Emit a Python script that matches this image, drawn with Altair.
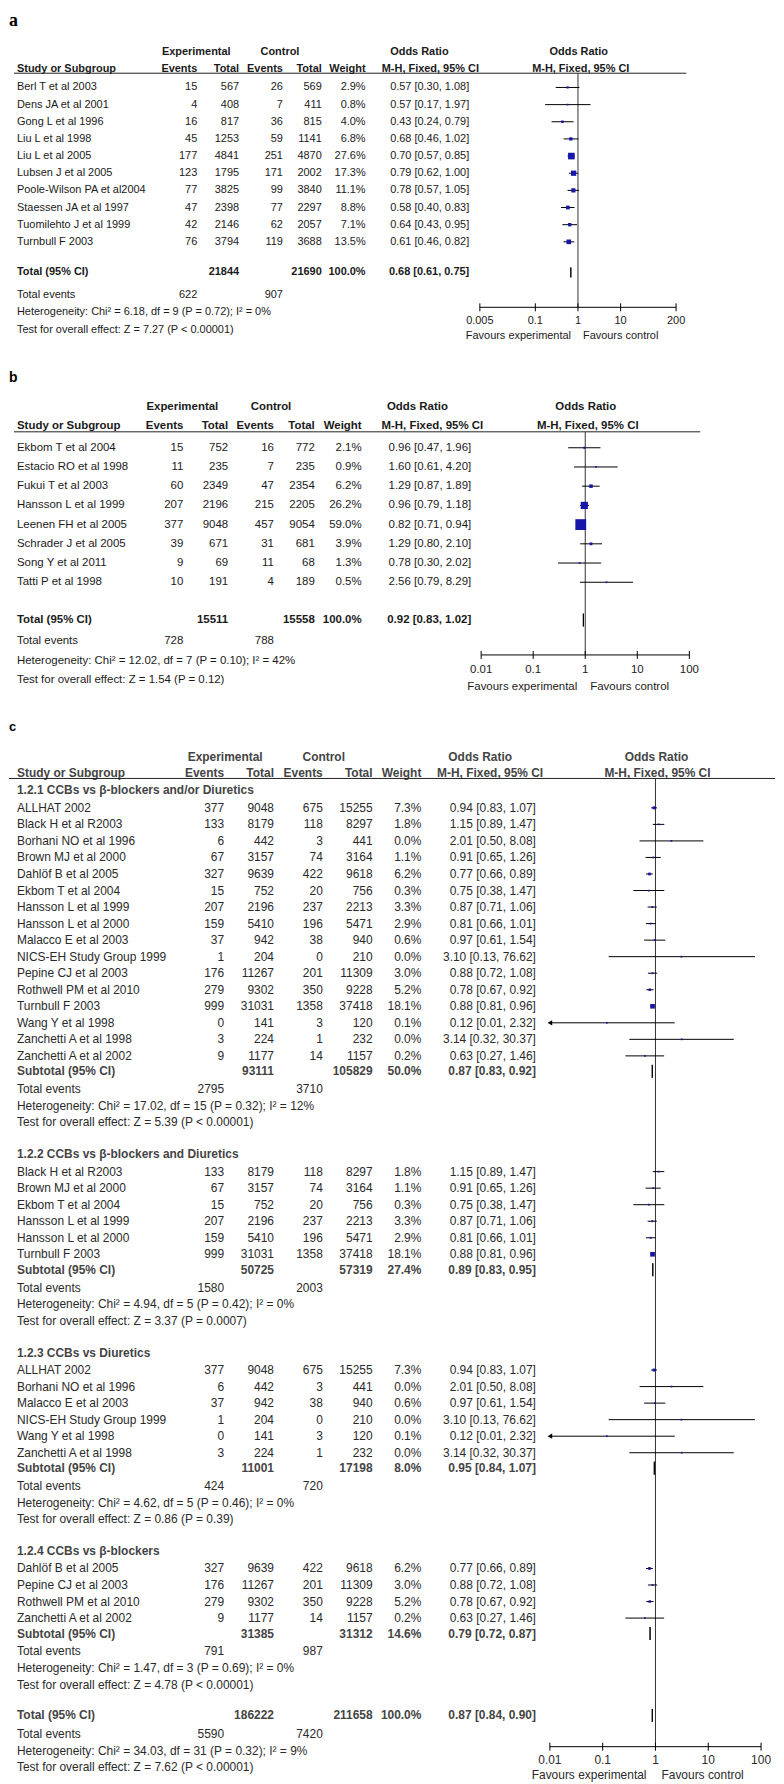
import altair as alt
import pandas as pd

# ============================ DATA ============================
# ---- Panel a ----
a_study = ["Berl T et al 2003", "Dens JA et al 2001", "Gong L et al 1996", "Liu L et al 1998",
           "Liu L et al 2005", "Lubsen J et al 2005", "Poole-Wilson PA et al2004",
           "Staessen JA et al 1997", "Tuomilehto J et al 1999", "Turnbull F 2003"]
a_exp_events = [15, 4, 16, 45, 177, 123, 77, 47, 42, 76]
a_exp_total = [567, 408, 817, 1253, 4841, 1795, 3825, 2398, 2146, 3794]
a_ctl_events = [26, 7, 36, 59, 251, 171, 99, 77, 62, 119]
a_ctl_total = [569, 411, 815, 1141, 4870, 2002, 3840, 2297, 2057, 3688]
a_weight = [2.9, 0.8, 4.0, 6.8, 27.6, 17.3, 11.1, 8.8, 7.1, 13.5]
a_or = [0.57, 0.57, 0.43, 0.68, 0.70, 0.79, 0.78, 0.58, 0.64, 0.61]
a_lo = [0.30, 0.17, 0.24, 0.46, 0.57, 0.62, 0.57, 0.40, 0.43, 0.46]
a_hi = [1.08, 1.97, 0.79, 1.02, 0.85, 1.00, 1.05, 0.83, 0.95, 0.82]
a_total = [21844, 21690, 100.0, 0.68, 0.61, 0.75]
a_total_events = [622, 907]
a_notes = ["Heterogeneity: Chi² = 6.18, df = 9 (P = 0.72); I² = 0%",
           "Test for overall effect: Z = 7.27 (P < 0.00001)"]
a_ticks = [0.005, 0.1, 1, 10, 200]
a_tick_labels = ["0.005", "0.1", "1", "10", "200"]

# ---- Panel b ----
b_study = ["Ekbom T et al 2004", "Estacio RO et al 1998", "Fukui T et al 2003", "Hansson L et al 1999",
           "Leenen FH et al 2005", "Schrader J et al 2005", "Song Y et al 2011", "Tatti P et al 1998"]
b_exp_events = [15, 11, 60, 207, 377, 39, 9, 10]
b_exp_total = [752, 235, 2349, 2196, 9048, 671, 69, 191]
b_ctl_events = [16, 7, 47, 215, 457, 31, 11, 4]
b_ctl_total = [772, 235, 2354, 2205, 9054, 681, 68, 189]
b_weight = [2.1, 0.9, 6.2, 26.2, 59.0, 3.9, 1.3, 0.5]
b_or = [0.96, 1.60, 1.29, 0.96, 0.82, 1.29, 0.78, 2.56]
b_lo = [0.47, 0.61, 0.87, 0.79, 0.71, 0.80, 0.30, 0.79]
b_hi = [1.96, 4.20, 1.89, 1.18, 0.94, 2.10, 2.02, 8.29]
b_total = [15511, 15558, 100.0, 0.92, 0.83, 1.02]
b_total_events = [728, 788]
b_notes = ["Heterogeneity: Chi² = 12.02, df = 7 (P = 0.10); I² = 42%",
           "Test for overall effect: Z = 1.54 (P = 0.12)"]
b_ticks = [0.01, 0.1, 1, 10, 100]
b_tick_labels = ["0.01", "0.1", "1", "10", "100"]

# ---- Panel c ----
c_groups = ["1.2.1 CCBs vs β-blockers and/or Diuretics", "1.2.2 CCBs vs β-blockers and Diuretics",
            "1.2.3 CCBs vs Diuretics", "1.2.4 CCBs vs β-blockers"]

c1_study = ["ALLHAT 2002", "Black H et al R2003", "Borhani NO et al 1996", "Brown MJ et al 2000",
            "Dahlöf B et al 2005", "Ekbom T et al 2004", "Hansson L et al 1999", "Hansson L et al 2000",
            "Malacco E et al 2003", "NICS-EH Study Group 1999", "Pepine CJ et al 2003",
            "Rothwell PM et al 2010", "Turnbull F 2003", "Wang Y et al 1998", "Zanchetti A et al 1998",
            "Zanchetti A et al 2002"]
c1_exp_events = [377, 133, 6, 67, 327, 15, 207, 159, 37, 1, 176, 279, 999, 0, 3, 9]
c1_exp_total = [9048, 8179, 442, 3157, 9639, 752, 2196, 5410, 942, 204, 11267, 9302, 31031, 141, 224, 1177]
c1_ctl_events = [675, 118, 3, 74, 422, 20, 237, 196, 38, 0, 201, 350, 1358, 3, 1, 14]
c1_ctl_total = [15255, 8297, 441, 3164, 9618, 756, 2213, 5471, 940, 210, 11309, 9228, 37418, 120, 232, 1157]
c1_weight = [7.3, 1.8, 0.0, 1.1, 6.2, 0.3, 3.3, 2.9, 0.6, 0.0, 3.0, 5.2, 18.1, 0.1, 0.0, 0.2]
c1_or = [0.94, 1.15, 2.01, 0.91, 0.77, 0.75, 0.87, 0.81, 0.97, 3.10, 0.88, 0.78, 0.88, 0.12, 3.14, 0.63]
c1_lo = [0.83, 0.89, 0.50, 0.65, 0.66, 0.38, 0.71, 0.66, 0.61, 0.13, 0.72, 0.67, 0.81, 0.01, 0.32, 0.27]
c1_hi = [1.07, 1.47, 8.08, 1.26, 0.89, 1.47, 1.06, 1.01, 1.54, 76.62, 1.08, 0.92, 0.96, 2.32, 30.37, 1.46]
c1_subtotal = [93111, 105829, 50.0, 0.87, 0.83, 0.92]
c1_events = [2795, 3710]
c1_notes = ["Heterogeneity: Chi² = 17.02, df = 15 (P = 0.32); I² = 12%",
            "Test for overall effect: Z = 5.39 (P < 0.00001)"]

c2_study = ["Black H et al R2003", "Brown MJ et al 2000", "Ekbom T et al 2004", "Hansson L et al 1999",
            "Hansson L et al 2000", "Turnbull F 2003"]
c2_exp_events = [133, 67, 15, 207, 159, 999]
c2_exp_total = [8179, 3157, 752, 2196, 5410, 31031]
c2_ctl_events = [118, 74, 20, 237, 196, 1358]
c2_ctl_total = [8297, 3164, 756, 2213, 5471, 37418]
c2_weight = [1.8, 1.1, 0.3, 3.3, 2.9, 18.1]
c2_or = [1.15, 0.91, 0.75, 0.87, 0.81, 0.88]
c2_lo = [0.89, 0.65, 0.38, 0.71, 0.66, 0.81]
c2_hi = [1.47, 1.26, 1.47, 1.06, 1.01, 0.96]
c2_subtotal = [50725, 57319, 27.4, 0.89, 0.83, 0.95]
c2_events = [1580, 2003]
c2_notes = ["Heterogeneity: Chi² = 4.94, df = 5 (P = 0.42); I² = 0%",
            "Test for overall effect: Z = 3.37 (P = 0.0007)"]

c3_study = ["ALLHAT 2002", "Borhani NO et al 1996", "Malacco E et al 2003", "NICS-EH Study Group 1999",
            "Wang Y et al 1998", "Zanchetti A et al 1998"]
c3_exp_events = [377, 6, 37, 1, 0, 3]
c3_exp_total = [9048, 442, 942, 204, 141, 224]
c3_ctl_events = [675, 3, 38, 0, 3, 1]
c3_ctl_total = [15255, 441, 940, 210, 120, 232]
c3_weight = [7.3, 0.0, 0.6, 0.0, 0.1, 0.0]
c3_or = [0.94, 2.01, 0.97, 3.10, 0.12, 3.14]
c3_lo = [0.83, 0.50, 0.61, 0.13, 0.01, 0.32]
c3_hi = [1.07, 8.08, 1.54, 76.62, 2.32, 30.37]
c3_subtotal = [11001, 17198, 8.0, 0.95, 0.84, 1.07]
c3_events = [424, 720]
c3_notes = ["Heterogeneity: Chi² = 4.62, df = 5 (P = 0.46); I² = 0%",
            "Test for overall effect: Z = 0.86 (P = 0.39)"]

c4_study = ["Dahlöf B et al 2005", "Pepine CJ et al 2003", "Rothwell PM et al 2010", "Zanchetti A et al 2002"]
c4_exp_events = [327, 176, 279, 9]
c4_exp_total = [9639, 11267, 9302, 1177]
c4_ctl_events = [422, 201, 350, 14]
c4_ctl_total = [9618, 11309, 9228, 1157]
c4_weight = [6.2, 3.0, 5.2, 0.2]
c4_or = [0.77, 0.88, 0.78, 0.63]
c4_lo = [0.66, 0.72, 0.67, 0.27]
c4_hi = [0.89, 1.08, 0.92, 1.46]
c4_subtotal = [31385, 31312, 14.6, 0.79, 0.72, 0.87]
c4_events = [791, 987]
c4_notes = ["Heterogeneity: Chi² = 1.47, df = 3 (P = 0.69); I² = 0%",
            "Test for overall effect: Z = 4.78 (P < 0.00001)"]

c_total = [186222, 211658, 100.0, 0.87, 0.84, 0.90]
c_total_events = [5590, 7420]
c_notes = ["Heterogeneity: Chi² = 34.03, df = 31 (P = 0.32); I² = 9%",
           "Test for overall effect: Z = 7.62 (P < 0.00001)"]
c_ticks = [0.01, 0.1, 1, 10, 100]
c_tick_labels = ["0.01", "0.1", "1", "10", "100"]

# ============================ HELPERS ============================
W, H = 768, 1768
YS = alt.Scale(domain=[0, H], range=[0, H])
BLUE = "#1616a8"
SANS = "Liberation Sans, Arial, sans-serif"


def yenc(field="y"):
    return alt.Y(f"{field}:Q", scale=YS, axis=None, stack=None)


def one(y, t):
    return pd.DataFrame({"y": [y], "t": [t]})


def fmt_or(o, l, h):
    return f"{o:.2f} [{l:.2f}, {h:.2f}]"


def text_layer(df, field, x, align, st, bold=False, size=None, font=None,
               baseline="middle", color=None):
    return alt.Chart(df).mark_text(
        align=align, baseline=baseline,
        font=font or st["font"], fontSize=size or st["size"],
        fontWeight="bold" if bold else "normal",
        color=color or (st["bold_color"] if bold else st["color"]),
    ).encode(x=alt.value(x), y=yenc(), text=alt.Text(f"{field}:N"))


def study_df(names, e1, t1, e2, t2, w, o, lo, hi, ys, dom, k):
    return pd.DataFrame({
        "name": names, "ev1": [str(v) for v in e1], "tot1": [str(v) for v in t1],
        "ev2": [str(v) for v in e2], "tot2": [str(v) for v in t2],
        "wt": [f"{v:.1f}%" for v in w],
        "ort": [fmt_or(a, b, c) for a, b, c in zip(o, lo, hi)],
        "orv": o, "lo_c": [max(v, dom[0]) for v in lo], "hi_c": [min(v, dom[1]) for v in hi],
        "arrow": [v <= dom[0] * 1.0001 for v in lo],
        "sz": [max(3.0, k * v) for v in w], "y": ys,
    })


def pooled_row(label, vals, y):
    return {"label": label, "tot1": str(vals[0]), "tot2": str(vals[1]), "wt": f"{vals[2]:.1f}%",
            "ort": fmt_or(vals[3], vals[4], vals[5]), "orv": vals[3], "lo": vals[4], "hi": vals[5], "y": y}


def build_panel(P):
    st, C, F = P["style"], P["cols"], P["forest"]
    L = []
    L.append(text_layer(one(P["letter_y"], P["letter"]), "t", 0, "left", st, bold=True,
                        size=P["letter_size"], font=P["letter_font"], baseline="alphabetic", color="#000"))
    for t, x in [("Experimental", C["exp_c"]), ("Control", C["ctl_c"]),
                 ("Odds Ratio", C["or1_c"]), ("Odds Ratio", C["or2_c"])]:
        L.append(text_layer(one(P["hdr1_y"], t), "t", x, "center", st, bold=True))
    for t, x, al in [("Study or Subgroup", C["name"], "left"), ("Events", C["ev1"], "right"),
                     ("Total", C["tot1"], "right"), ("Events", C["ev2"], "right"),
                     ("Total", C["tot2"], "right"), ("Weight", C["wt"], "right"),
                     ("M-H, Fixed, 95% CI", C["mh1_c"], "center"),
                     ("M-H, Fixed, 95% CI", C["mh2_c"], "center")]:
        L.append(text_layer(one(P["hdr2_y"], t), "t", x, al, st, bold=True))
    L.append(alt.Chart(one(P["uline_y"], "")).mark_rule(color="#222", strokeWidth=1).encode(
        x=alt.value(P["uline_x"][0]), x2=alt.value(P["uline_x"][1]), y=yenc()))

    S = P["studies"]
    for f, x, al in [("name", C["name"], "left"), ("ev1", C["ev1"], "right"), ("tot1", C["tot1"], "right"),
                     ("ev2", C["ev2"], "right"), ("tot2", C["tot2"], "right"), ("wt", C["wt"], "right"),
                     ("ort", C["ort"], "right")]:
        L.append(text_layer(S, f, x, al, st))

    PO = P["pooled"]
    for f, x, al in [("label", C["name"], "left"), ("tot1", C["tot1"], "right"), ("tot2", C["tot2"], "right"),
                     ("wt", C["wt"], "right"), ("ort", C["ort"], "right")]:
        L.append(text_layer(PO, f, x, al, st, bold=True))
    EV = P["events"]
    for f, x, al in [("label", C["name"], "left"), ("ev1", C["ev1"], "right"), ("ev2", C["ev2"], "right")]:
        L.append(text_layer(EV, f, x, al, st))
    L.append(text_layer(P["notes"], "t", C["name"], "left", st))
    if P.get("sections") is not None:
        L.append(text_layer(P["sections"], "t", C["name"], "left", st, bold=True))

    # ---------- forest plot ----------
    XS = alt.Scale(type="log", domain=F["domain"], range=F["range"])

    def xe(f):
        return alt.X(f"{f}:Q", scale=XS, axis=None)

    L.append(alt.Chart(pd.DataFrame({"x": [1.0], "y": [P["uline_y"]], "y2": [F["axis_y"]]}))
             .mark_rule(color="#333", strokeWidth=1).encode(x=xe("x"), y=yenc(), y2="y2:Q"))
    L.append(alt.Chart(S).mark_rule(color="#000", strokeWidth=1).encode(x=xe("lo_c"), x2="hi_c:Q", y=yenc()))
    L.append(alt.Chart(S).mark_square(filled=True, color=BLUE, opacity=1).encode(
        x=xe("orv"), y=yenc(), size=alt.Size("sz:Q", scale=None)))
    AR = S[S["arrow"]]
    if len(AR):
        L.append(alt.Chart(AR).mark_point(shape="triangle-left", filled=True, color="#000", size=28,
                                          opacity=1, dx=2).encode(x=xe("lo_c"), y=yenc()))
    hh = F["diamond_h"]
    drows = []
    for i, r in PO.iterrows():
        drows += [{"id": i, "x": r["lo"], "y": r["y"], "y2": r["y"]},
                  {"id": i, "x": r["orv"], "y": r["y"] - hh, "y2": r["y"] + hh},
                  {"id": i, "x": r["hi"], "y": r["y"], "y2": r["y"]}]
    L.append(alt.Chart(pd.DataFrame(drows)).mark_area(
        color="#000", orient="vertical", opacity=1, stroke="#000", strokeWidth=1).encode(
        x=xe("x"), y=yenc(), y2="y2:Q", detail="id:N", order="x:Q"))
    L.append(alt.Chart(pd.DataFrame({"x": [F["domain"][0]], "x2": [F["domain"][1]], "y": [F["axis_y"]]}))
             .mark_rule(color="#000", strokeWidth=1).encode(x=xe("x"), x2="x2:Q", y=yenc()))
    T = pd.DataFrame({"x": F["ticks"], "t": F["tick_labels"], "y": F["axis_y"] - 4, "y2": F["axis_y"] + 4})
    L.append(alt.Chart(T).mark_rule(color="#000", strokeWidth=1).encode(x=xe("x"), y=yenc(), y2="y2:Q"))
    T2 = T.assign(y=F["lab_y"])
    L.append(alt.Chart(T2).mark_text(font=st["font"], fontSize=st["size"], color=st["color"], baseline="middle")
             .encode(x=xe("x"), y=yenc(), text="t:N"))
    L.append(alt.Chart(pd.DataFrame({"x": [1.0], "y": [F["fav_y"]], "t": ["Favours experimental"]}))
             .mark_text(font=st["font"], fontSize=st["size"], color=st["color"], align="right",
                        baseline="middle", dx=-F["fav_gap"][0]).encode(x=xe("x"), y=yenc(), text="t:N"))
    L.append(alt.Chart(pd.DataFrame({"x": [1.0], "y": [F["fav_y"]], "t": ["Favours control"]}))
             .mark_text(font=st["font"], fontSize=st["size"], color=st["color"], align="left",
                        baseline="middle", dx=F["fav_gap"][1]).encode(x=xe("x"), y=yenc(), text="t:N"))
    return alt.layer(*L)


# ============================ PANEL A ============================
dom_a = [a_ticks[0], a_ticks[-1]]
ys_a = [69.3 + 17.22 * i for i in range(len(a_study))]
Sa = study_df(a_study, a_exp_events, a_exp_total, a_ctl_events, a_ctl_total, a_weight, a_or, a_lo, a_hi,
              ys_a, dom_a, 1.6)
panel_a = build_panel({
    "style": {"font": SANS, "size": 11, "color": "#1a1a1a", "bold_color": "#1a1a1a"},
    "letter": "a", "letter_y": 7.5, "letter_size": 18, "letter_font": "Liberation Serif",
    "hdr1_y": 34, "hdr2_y": 51, "uline_y": 55, "uline_x": [5, 680],
    "cols": {"name": 8, "ev1": 189, "tot1": 231, "ev2": 275, "tot2": 314, "wt": 358, "ort": 462,
             "exp_c": 188, "ctl_c": 272, "or1_c": 412, "mh1_c": 423, "or2_c": 572, "mh2_c": 574},
    "studies": Sa,
    "pooled": pd.DataFrame([pooled_row("Total (95% CI)", a_total, 255)]),
    "events": pd.DataFrame({"label": ["Total events"], "ev1": [str(a_total_events[0])],
                            "ev2": [str(a_total_events[1])], "y": [278]}),
    "notes": pd.DataFrame({"t": a_notes, "y": [295, 313]}),
    "forest": {"domain": dom_a, "range": [472.7, 669.7], "axis_y": 290, "lab_y": 304, "fav_y": 319,
               "ticks": a_ticks, "tick_labels": a_tick_labels, "fav_gap": [7, 5], "diamond_h": 5},
})

# ============================ PANEL B ============================
dom_b = [b_ticks[0], b_ticks[-1]]
ys_b = [431 + 19.29 * i for i in range(len(b_study))]
Sb = study_df(b_study, b_exp_events, b_exp_total, b_ctl_events, b_ctl_total, b_weight, b_or, b_lo, b_hi,
              ys_b, dom_b, 2.0)
panel_b = build_panel({
    "style": {"font": SANS, "size": 11.5, "color": "#1a1a1a", "bold_color": "#1a1a1a"},
    "letter": "b", "letter_y": 365, "letter_size": 14, "letter_font": SANS,
    "hdr1_y": 390, "hdr2_y": 409, "uline_y": 415, "uline_x": [5, 694],
    "cols": {"name": 8, "ev1": 175, "tot1": 220, "ev2": 266, "tot2": 307, "wt": 354, "ort": 464,
             "exp_c": 174, "ctl_c": 263, "or1_c": 410, "mh1_c": 425, "or2_c": 579, "mh2_c": 581},
    "studies": Sb,
    "pooled": pd.DataFrame([pooled_row("Total (95% CI)", b_total, 604)]),
    "events": pd.DataFrame({"label": ["Total events"], "ev1": [str(b_total_events[0])],
                            "ev2": [str(b_total_events[1])], "y": [625]}),
    "notes": pd.DataFrame({"t": b_notes, "y": [645, 664]}),
    "forest": {"domain": dom_b, "range": [474, 683], "axis_y": 639, "lab_y": 654, "fav_y": 671,
               "ticks": b_ticks, "tick_labels": b_tick_labels, "fav_gap": [8, 5], "diamond_h": 6.5},
})

# ============================ PANEL C ============================
dom_c = [c_ticks[0], c_ticks[-1]]
groups = [
    (c1_study, c1_exp_events, c1_exp_total, c1_ctl_events, c1_ctl_total, c1_weight, c1_or, c1_lo, c1_hi,
     c1_subtotal, c1_events, c1_notes),
    (c2_study, c2_exp_events, c2_exp_total, c2_ctl_events, c2_ctl_total, c2_weight, c2_or, c2_lo, c2_hi,
     c2_subtotal, c2_events, c2_notes),
    (c3_study, c3_exp_events, c3_exp_total, c3_ctl_events, c3_ctl_total, c3_weight, c3_or, c3_lo, c3_hi,
     c3_subtotal, c3_events, c3_notes),
    (c4_study, c4_exp_events, c4_exp_total, c4_ctl_events, c4_ctl_total, c4_weight, c4_or, c4_lo, c4_hi,
     c4_subtotal, c4_events, c4_notes),
]
study_frames, pooled_rows, ev_rows, note_rows, sec_rows = [], [], [], [], []
y = 775.0
for gname, g in zip(c_groups, groups):
    names, e1, t1, e2, t2, w, o, lo, hi, sub, ev, notes = g
    sec_rows.append({"t": gname, "y": y})
    y += 17.5
    ys = [y + 16.6 * i for i in range(len(names))]
    study_frames.append(study_df(names, e1, t1, e2, t2, w, o, lo, hi, ys, dom_c, 1.2))
    y = ys[-1] + 15.5
    pooled_rows.append(pooled_row("Subtotal (95% CI)", sub, y))
    y += 18
    ev_rows.append({"label": "Total events", "ev1": str(ev[0]), "ev2": str(ev[1]), "y": y})
    y += 16.7
    note_rows.append({"t": notes[0], "y": y})
    y += 16.5
    note_rows.append({"t": notes[1], "y": y})
    y += 32
y -= 1
pooled_rows.append(pooled_row("Total (95% CI)", c_total, y))
y += 19
ev_rows.append({"label": "Total events", "ev1": str(c_total_events[0]), "ev2": str(c_total_events[1]), "y": y})
y += 16.5
note_rows.append({"t": c_notes[0], "y": y})
y += 16.5
note_rows.append({"t": c_notes[1], "y": y})

panel_c = build_panel({
    "style": {"font": SANS, "size": 12, "color": "#2a2a2a", "bold_color": "#444"},
    "letter": "c", "letter_y": 715, "letter_size": 13, "letter_font": SANS,
    "hdr1_y": 741, "hdr2_y": 758, "uline_y": 763, "uline_x": [0, 769],
    "cols": {"name": 8, "ev1": 216, "tot1": 266, "ev2": 315, "tot2": 365, "wt": 414, "ort": 529,
             "exp_c": 217, "ctl_c": 316, "or1_c": 473, "mh1_c": 483, "or2_c": 650, "mh2_c": 651},
    "studies": pd.concat(study_frames, ignore_index=True),
    "pooled": pd.DataFrame(pooled_rows),
    "events": pd.DataFrame(ev_rows),
    "notes": pd.DataFrame(note_rows),
    "sections": pd.DataFrame(sec_rows),
    "forest": {"domain": dom_c, "range": [543, 755], "axis_y": 1735, "lab_y": 1748, "fav_y": 1763,
               "ticks": c_ticks, "tick_labels": c_tick_labels, "fav_gap": [9, 6], "diamond_h": 6.5},
})

chart = (
    alt.layer(panel_a, panel_b, panel_c)
    .resolve_scale(x="independent")
    .properties(width=W, height=H, padding=0, background="white")
    .configure_view(stroke=None)
)
chart.save("out.html", embed_options={"renderer": "svg", "actions": False})
